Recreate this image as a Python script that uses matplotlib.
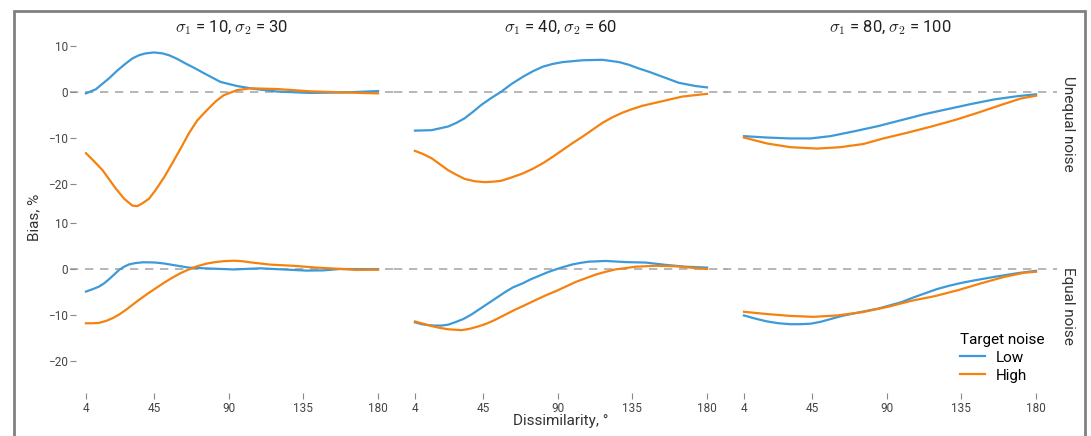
import numpy as np
import matplotlib
matplotlib.use("Agg")
import matplotlib.pyplot as plt
from matplotlib.patches import Rectangle

plt.rcParams["font.family"] = ["Roboto", "DejaVu Sans"]
plt.rcParams["mathtext.fontset"] = "cm"

# panel titles and row labels
titles = [r"$\sigma_1$ = 10, $\sigma_2$ = 30",
          r"$\sigma_1$ = 40, $\sigma_2$ = 60",
          r"$\sigma_1$ = 80, $\sigma_2$ = 100"]
rows = ["Unequal noise", "Equal noise"]

# ---- Unequal noise (top row) ----
u1_low_x = [4, 10, 18, 23, 28, 32, 36, 40, 45, 50, 54, 59, 64, 70, 75, 85, 95, 105, 119, 139, 159, 180]
u1_low_y = [-0.3, 0.6, 3.0, 4.7, 6.2, 7.3, 8.0, 8.4, 8.6, 8.4, 8.0, 7.2, 6.2, 5.1, 4.1, 2.2, 1.3, 0.7, 0.1, -0.2, -0.1, 0.2]
u1_high_x = [4, 9, 14, 18, 22, 27, 32, 35, 38, 42, 46, 51, 56, 61, 66, 71, 77, 82, 87, 95, 103, 119, 139, 159, 180]
u1_high_y = [-13.3, -15.1, -17.0, -19.0, -21.0, -23.2, -24.7, -24.8, -24.2, -23.2, -21.3, -18.6, -15.5, -12.3, -9.0, -6.2, -3.9, -2.1, -0.7, 0.4, 0.8, 0.65, 0.15, -0.1, -0.3]

u2_low_x = [4, 14, 24, 29, 34, 39, 44, 50, 56, 62, 69, 75, 81, 87, 93, 105, 117, 127, 133, 139, 145, 151, 157, 163, 173, 180]
u2_low_y = [-8.4, -8.3, -7.5, -6.7, -5.7, -4.3, -2.8, -1.3, 0.07, 1.7, 3.3, 4.5, 5.5, 6.1, 6.5, 6.9, 7.0, 6.5, 5.9, 5.1, 4.4, 3.6, 2.8, 2.0, 1.3, 1.0]
u2_high_x = [4, 9, 14, 19, 24, 29, 34, 40, 46, 51, 56, 62, 69, 75, 81, 87, 93, 99, 105, 111, 117, 123, 129, 135, 141, 153, 165, 180]
u2_high_y = [-12.8, -13.5, -14.4, -15.7, -17.0, -18.0, -18.9, -19.4, -19.6, -19.5, -19.3, -18.6, -17.7, -16.7, -15.5, -14.1, -12.6, -11.1, -9.7, -8.2, -6.7, -5.5, -4.5, -3.7, -3.0, -2.0, -1.0, -0.4]

u3_low_x = [4, 18, 32, 44, 56, 71, 85, 99, 113, 127, 141, 155, 169, 180]
u3_low_y = [-9.6, -9.9, -10.1, -10.1, -9.6, -8.5, -7.4, -6.1, -4.8, -3.7, -2.6, -1.6, -0.9, -0.5]
u3_high_x = [4, 18, 32, 48, 62, 76, 88, 103, 117, 131, 145, 159, 171, 180]
u3_high_y = [-9.9, -11.2, -12.0, -12.3, -12.0, -11.3, -10.1, -8.8, -7.5, -6.1, -4.5, -2.8, -1.4, -0.8]

# ---- Equal noise (bottom row) ----
e1_low_x = [4, 8, 12, 15, 18, 21, 24, 27, 30, 34, 38, 42, 46, 51, 56, 61, 66, 79, 93, 109, 123, 137, 147, 157, 180]
e1_low_y = [-4.9, -4.4, -3.8, -3.1, -2.2, -1.2, -0.2, 0.5, 1.0, 1.3, 1.45, 1.45, 1.4, 1.2, 0.9, 0.6, 0.3, 0.1, -0.1, 0.15, -0.1, -0.35, -0.3, 0.0, -0.05]
e1_high_x = [4, 8, 12, 16, 20, 24, 28, 32, 36, 41, 46, 51, 56, 61, 66, 71, 77, 82, 87, 93, 98, 103, 115, 129, 143, 155, 167, 180]
e1_high_y = [-11.8, -11.8, -11.7, -11.3, -10.7, -9.9, -8.9, -7.8, -6.7, -5.4, -4.2, -3.0, -1.9, -0.9, -0.1, 0.6, 1.2, 1.5, 1.7, 1.8, 1.7, 1.45, 0.95, 0.7, 0.3, 0.07, -0.2, -0.15]

e2_low_x = [4, 8, 12, 16, 20, 24, 28, 33, 38, 43, 48, 53, 58, 63, 69, 74, 79, 84, 89, 94, 99, 104, 109, 119, 131, 143, 155, 167, 180]
e2_low_y = [-11.6, -12.0, -12.2, -12.3, -12.3, -12.1, -11.6, -10.9, -9.9, -8.7, -7.5, -6.3, -5.1, -4.0, -3.1, -2.2, -1.45, -0.7, -0.07, 0.5, 1.0, 1.35, 1.6, 1.75, 1.5, 1.4, 0.9, 0.5, 0.3]
e2_high_x = [4, 9, 14, 19, 24, 28, 32, 37, 42, 47, 52, 58, 64, 70, 77, 83, 89, 95, 101, 107, 113, 119, 125, 131, 137, 149, 161, 173, 180]
e2_high_y = [-11.4, -11.9, -12.4, -12.8, -13.1, -13.2, -13.3, -13.0, -12.5, -11.9, -11.1, -10.0, -8.9, -7.9, -6.7, -5.7, -4.8, -3.8, -2.8, -2.0, -1.2, -0.6, -0.07, 0.2, 0.5, 0.7, 0.6, 0.2, 0.0]

e3_low_x = [4, 11, 18, 25, 32, 38, 44, 50, 56, 63, 71, 85, 99, 106, 113, 120, 127, 134, 141, 155, 169, 180]
e3_low_y = [-10.1, -10.8, -11.4, -11.8, -12.0, -12.0, -11.9, -11.5, -10.9, -10.2, -9.6, -8.6, -7.2, -6.2, -5.3, -4.4, -3.7, -3.1, -2.6, -1.7, -0.9, -0.4]
e3_high_x = [4, 18, 32, 46, 60, 75, 91, 105, 119, 133, 147, 161, 173, 180]
e3_high_y = [-9.3, -9.8, -10.2, -10.4, -10.1, -9.4, -8.2, -6.9, -5.9, -4.6, -3.1, -1.7, -0.8, -0.6]

low_col = "#3d9ad9"
high_col = "#f5820f"

data = [
    [(u1_low_x, u1_low_y, u1_high_x, u1_high_y),
     (u2_low_x, u2_low_y, u2_high_x, u2_high_y),
     (u3_low_x, u3_low_y, u3_high_x, u3_high_y)],
    [(e1_low_x, e1_low_y, e1_high_x, e1_high_y),
     (e2_low_x, e2_low_y, e2_high_x, e2_high_y),
     (e3_low_x, e3_low_y, e3_high_x, e3_high_y)],
]

W, H = 1091, 436
fig = plt.figure(figsize=(W / 100, H / 100), dpi=100)

# axes placement in pixels
lefts = [76, 405, 734]
width = 312
row_tb = [(36.8, 211.6), (218.4, 393.2)]
ylims = [(-26, 12), (-27, 11)]

# grey frame round the whole figure (bottom edge lies outside the image)
frame_top = 1 - 11 / H
fig.add_artist(Rectangle((14 / W, -0.05), (1085 - 14) / W, frame_top + 0.05,
                         transform=fig.transFigure, fill=False,
                         edgecolor="#808080", linewidth=2.0))

axes = []
for r in range(2):
    top, bot = row_tb[r]
    for c in range(3):
        ax = fig.add_axes([lefts[c] / W, 1 - bot / H, width / W, (bot - top) / H])
        lx, ly, hx, hy = data[r][c]
        ax.axhline(0, xmin=-0.02 if c == 0 else -0.035, xmax=1.035,
                   color="#aaaaaa", lw=1.2, ls=(0, (5, 4)), clip_on=False, zorder=1)
        ax.plot(lx, ly, color=low_col, lw=1.6, label="Low", zorder=3,
                solid_joinstyle="round")
        ax.plot(hx, hy, color=high_col, lw=1.6, label="High", zorder=3,
                solid_joinstyle="round")
        ax.set_xlim(-2, 186)
        ax.set_ylim(*ylims[r])
        for s in ax.spines.values():
            s.set_visible(False)
        ax.set_xticks([4, 45, 90, 135, 180])
        ax.set_yticks([10, 0, -10, -20])
        ax.tick_params(colors="#888888", labelcolor="#444444", labelsize=8.5,
                       length=4, width=0.8, pad=2)
        if r == 0:
            ax.tick_params(axis="x", bottom=False, labelbottom=False)
            ax.set_title(titles[c], fontsize=12, color="#222222", pad=-1)
        if c > 0:
            ax.tick_params(axis="y", left=False, labelleft=False)
        if c == 2:
            ax.text(1.07, 0.5, rows[r], transform=ax.transAxes, rotation=-90,
                    ha="center", va="center", fontsize=11, color="#333333")
        axes.append(ax)

leg = axes[5].legend(title="Target noise", loc="lower right",
                     bbox_to_anchor=(1.03, 0.0), frameon=False, fontsize=11,
                     title_fontsize=11, handlelength=1.6, handletextpad=0.7,
                     labelspacing=0.25, borderpad=0.2)
leg._legend_box.align = "left"

fig.text(34 / W, 1 - 217 / H, "Bias, %", rotation=90, ha="center", va="center",
         fontsize=11, color="#333333")
fig.text(561 / W, 1 - 421 / H, "Dissimilarity, °", ha="center", va="center",
         fontsize=11, color="#333333")

fig.savefig("out.png", dpi=100)
